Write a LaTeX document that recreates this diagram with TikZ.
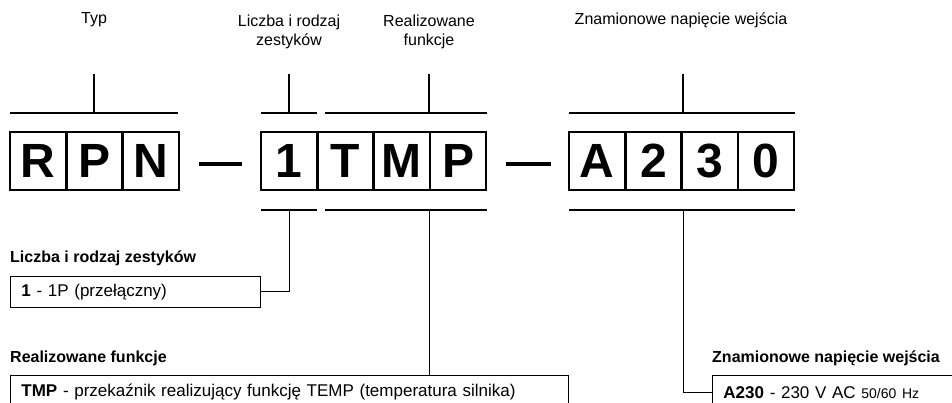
\documentclass[tikz,border=0pt]{standalone}
\usepackage{fontspec}
\setmainfont{Liberation Sans}
\begin{document}
\begin{tikzpicture}[x=1pt,y=-1pt,
    cell/.style={draw,line width=2.5pt,minimum width=56.3pt,minimum height=58pt,inner sep=0pt,font=\fontsize{48}{48}\selectfont\bfseries},
    lab/.style={align=center,font=\fontsize{16}{19}\selectfont},
    head/.style={anchor=west,inner sep=0pt,font=\fontsize{16}{19}\selectfont\bfseries},
    desc/.style={draw,line width=0.9pt,anchor=north west,inner xsep=11pt,inner ysep=0pt,align=left,font=\fontsize{17}{20}\selectfont},
    brk/.style={line width=1.2pt},
    wire/.style={line width=1pt}]
  \useasboundingbox (0,0) rectangle (952,403);
  % code letters
  \foreach \l [count=\i] in {R,P,N}
    \node[cell] (t\i) at ({10+56.3*(\i-0.5)},161) {\l};
  \foreach \l [count=\i] in {1,T,M,P}
    \node[cell] (f\i) at ({261+56.3*(\i-0.5)},161) {\l};
  \foreach \l [count=\i] in {A,2,3,0}
    \node[cell] (u\i) at ({569+56.3*(\i-0.5)},161) {\l};
  \draw[line width=4.5pt] (199,164) -- (242,164);
  \draw[line width=4.5pt] (506,164) -- (551,164);
  % top labels
  \node[lab] (typ) at (94,20) {Typ};
  \node[lab] (lz) at (289,31.5) {Liczba i rodzaj\\zestyków};
  \node[lab] (rf) at (429,31.5) {Realizowane\\funkcje};
  \node[lab] (zn) at (681,20) {Znamionowe napięcie wejścia};
  \draw[brk] (10,113) -- (178,113) (94,113) -- (94,74);
  \draw[brk] (261,113) -- (317,113) (289,113) -- (289,74);
  \draw[brk] (325,113) -- (487,113) (429,113) -- (429,74);
  \draw[brk] (569,113) -- (795,113) (683,113) -- (683,74);
  % bottom brackets
  \draw[brk] (261,210) -- (317,210) (325,210) -- (487,210) (569,210) -- (795,210);
  \coordinate (b1) at (289,210);
  \coordinate (b2) at (429,210);
  \coordinate (b3) at (683,210);
  % descriptions
  \node[head] (hl) at (10,258) {Liczba i rodzaj zestyków};
  \node[desc,text width=228pt,minimum height=31pt] (dl) at (10,276) {\textbf{1} - 1P (przełączny)};
  \node[head] (hr) at (10,358) {Realizowane funkcje};
  \node[desc,text width=536pt,minimum height=34pt] (dr) at (10,375) {\textbf{TMP} - przekaźnik realizujący funkcję TEMP (temperatura silnika)};
  \node[head] (hz) at (712,358) {Znamionowe napięcie wejścia};
  \node[desc,text width=260pt,minimum height=34pt] (dz) at (712,375) {\textbf{A230} - 230 V AC {\fontsize{14}{16}\selectfont 50/60 Hz}};
  \draw[wire] (dl.east) -| (b1);
  \draw[wire] (b2) -- (b2 |- dr.north);
  \draw[wire] (dz.west) -| (b3);
\end{tikzpicture}
\end{document}
